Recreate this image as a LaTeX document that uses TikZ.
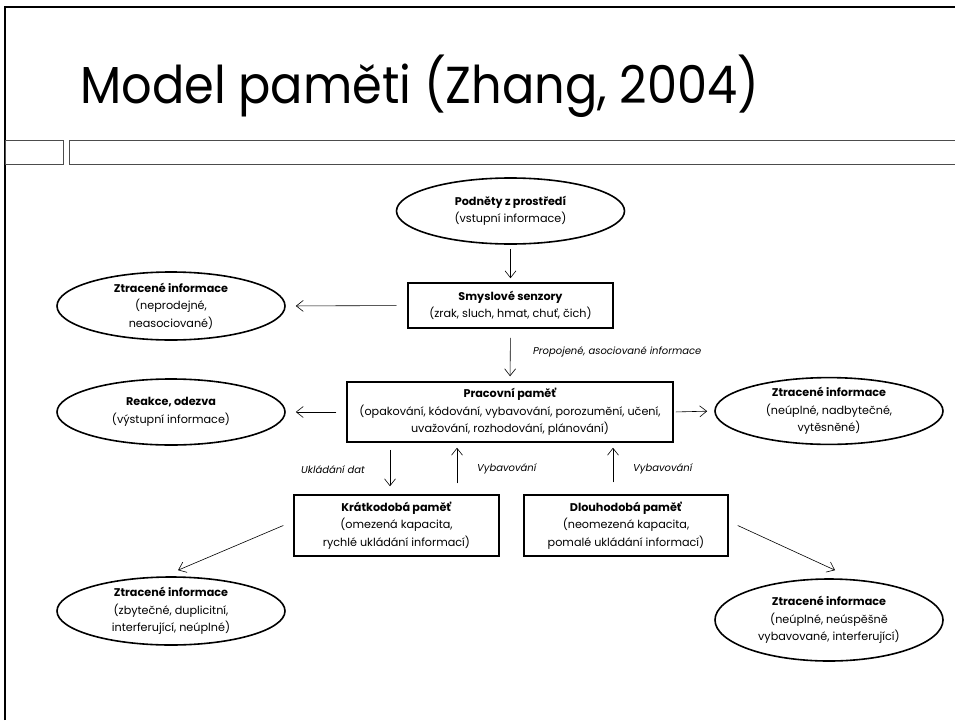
\documentclass[tikz,border=0pt]{standalone}
\usepackage{fontspec}
\setmainfont{Poppins}
\newfontfamily\titlefont{Poppins}[FakeStretch=0.92]
\usetikzlibrary{arrows.meta,shapes.geometric}
\begin{document}
\begin{tikzpicture}[x=1pt,y=-1pt,
  txt/.style={align=center,font=\fontsize{11.2}{17.5}\selectfont},
  ell/.style={txt,draw,line width=1.6pt,ellipse,minimum width=228pt,minimum height=66pt,inner sep=0pt},
  box/.style={txt,draw,line width=1.5pt,rectangle,inner sep=0pt},
  arr/.style={-{Straight Barb[length=7pt,width=11pt]},line width=0.6pt},
  lab/.style={font=\fontsize{10}{12}\selectfont\itshape,inner sep=0pt},
  bar/.style={draw=black!70,line width=0.9pt}
]
\useasboundingbox (0,0) rectangle (955,720);
% slide frame
\draw[line width=2.4pt] (5,720) -- (5,7) -- (955,7);
\draw[bar] (5,140) rectangle (63,164);
\draw[bar] (955,140) -- (69,140) -- (69,164) -- (955,164);
% title
\node[anchor=base west,inner sep=0pt,font=\titlefont\fontsize{52}{62}\selectfont] (title) at (80,103) {Model paměti (Zhang, 2004)};
% nodes
\node[ell] (pod) at (510.5,211) {\textbf{Podněty z prostředí}\\(vstupní informace)};
\node[box,minimum width=205pt,minimum height=45pt] (smy) at (510.5,305.5) {\textbf{Smyslové senzory}\\(zrak, sluch, hmat, chuť, čich)};
\node[ell,minimum height=68pt] (ztra) at (171,306) {\textbf{Ztracené informace}\\(neprodejné,\\neasociované)};
\node[box,minimum width=326pt,minimum height=60pt] (pra) at (510,412) {\textbf{Pracovní paměť}\\(opakování, kódování, vybavování, porozumění, učení,\\uvažování, rozhodování, plánování)};
\node[ell] (rea) at (171,412) {\textbf{Reakce, odezva}\\(výstupní informace)};
\node[ell] (ztrb) at (829,411) {\textbf{Ztracené informace}\\(neúplné, nadbytečné,\\vytěsněné)};
\node[box,minimum width=205pt,minimum height=61pt] (kra) at (396.5,525.5) {\textbf{Krátkodobá paměť}\\(omezená kapacita,\\rychlé ukládání informací)};
\node[box,minimum width=204pt,minimum height=61pt] (dlo) at (626,525.5) {\textbf{Dlouhodobá paměť}\\(neomezená kapacita,\\pomalé ukládání informací)};
\node[ell,minimum height=68pt] (ztrc) at (171,611) {\textbf{Ztracené informace}\\(zbytečné, duplicitní,\\interferující, neúplné)};
\node[ell,minimum height=82pt] (ztrd) at (829,620) {\textbf{Ztracené informace}\\(neúplné, neúspěšně\\vybavované, interferující)};
% connectors
\draw[arr,shorten <=4pt,shorten >=4pt] (pod.south) -- (smy.north);
\draw[arr,shorten <=11pt,shorten >=10pt] (smy.west) -- (ztra.east);
\draw[arr,shorten <=9pt,shorten >=5pt] (smy.south) -- (pra.north);
\draw[arr,shorten <=10pt,shorten >=10pt] (pra.west) -- (rea.east);
\draw[arr,shorten <=2pt,shorten >=7pt] (pra.east) -- (ztrb.west);
\draw[arr,shorten <=7pt,shorten >=8pt] ([xshift=-6.5pt]kra.north |- pra.south) -- ([xshift=-6.5pt]kra.north);
\draw[arr,shorten <=11pt,shorten >=5pt] ([xshift=60.5pt]kra.north) -- ([xshift=60.5pt]kra.north |- pra.south);
\draw[arr,shorten <=12pt,shorten >=5pt] ([xshift=-13pt]dlo.north) -- ([xshift=-13pt]dlo.north |- pra.south);
\draw[arr] ([xshift=-10pt]kra.west) -- ([xshift=7pt,yshift=6pt]ztrc.north);
\draw[arr] ([xshift=9pt]dlo.east) -- ([xshift=6pt,yshift=8pt]ztrd.north);
% labels
\node[lab,anchor=west] (l1) at (533,352) {Propojené, asociované informace};
\node[lab,anchor=east] (l2) at (365,470) {Ukládání dat};
\node[lab,anchor=west] (l3) at (477,469) {Vybavování};
\node[lab,anchor=west] (l4) at (633,469) {Vybavování};
\end{tikzpicture}
\end{document}
